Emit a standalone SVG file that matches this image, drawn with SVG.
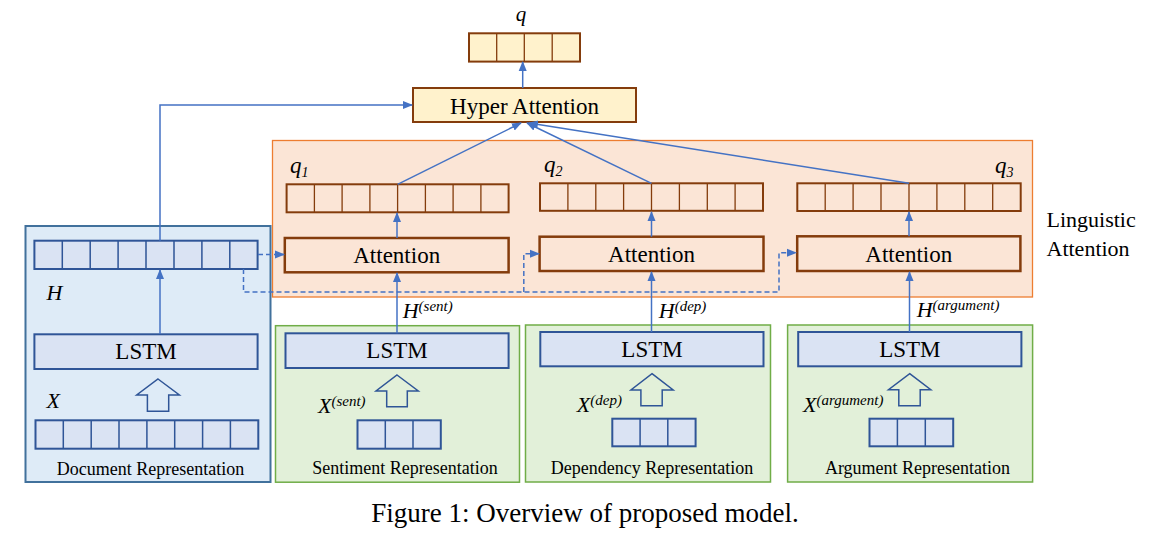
<svg xmlns="http://www.w3.org/2000/svg" width="1168" height="551" viewBox="0 0 1168 551">
<defs>
<marker id="ah" markerUnits="userSpaceOnUse" markerWidth="10" markerHeight="10" viewBox="0 0 10 10" refX="9" refY="5" orient="auto">
<path d="M0,1 L10,5 L0,9 Z" fill="#4472C4"/>
</marker>
</defs>
<style>
.t{font-family:"Liberation Serif","Times New Roman",serif;fill:#000}
.i{font-style:italic}
.docbox{fill:#DEEBF7;stroke:#41719C;stroke-width:2}
.grn{fill:#E2F0D9;stroke:#70AD47;stroke-width:1.5}
.la{fill:#FBE5D6;stroke:#ED7D31;stroke-width:1.3}
.bvec{fill:#DAE3F3;stroke:#2F5597;stroke-width:2}
.bdiv{stroke:#2F5597;stroke-width:1.5}
.rvec{fill:#FBE5D6;stroke:#843C0C;stroke-width:2}
.rdiv{stroke:#843C0C;stroke-width:1.3}
.ybox{fill:#FFF2CC;stroke:#843C0C;stroke-width:2}
.att{fill:#FBE5D6;stroke:#843C0C;stroke-width:2.5}
.lstm{fill:#DAE3F3;stroke:#2F5597;stroke-width:2}
.barrow{fill:none;stroke:#2F5597;stroke-width:1.5}
.c{fill:none;stroke:#4472C4;stroke-width:1.5}
.d{fill:none;stroke:#4472C4;stroke-width:1.5;stroke-dasharray:5 3}
</style>

<g id="linguistic-attention">
<rect class="la" x="272.5" y="140.5" width="760" height="156.5"/>
<text class="t" x="1046.5" y="227" font-size="22">Linguistic</text>
<text class="t" x="1046.5" y="256" font-size="22">Attention</text>
</g>

<g id="document">
<rect class="docbox" x="25.5" y="226" width="245" height="256"/>
<text class="t" x="150.5" y="475" font-size="18" text-anchor="middle">Document Representation</text>
</g>
<g id="sentiment">
<rect class="grn" x="275.5" y="325.7" width="244" height="156.5"/>
<text class="t" x="405" y="474" font-size="18" text-anchor="middle">Sentiment Representation</text>
</g>
<g id="dependency">
<rect class="grn" x="525.5" y="325" width="245" height="157"/>
<text class="t" x="652" y="474" font-size="18" text-anchor="middle">Dependency Representation</text>
</g>
<g id="argument">
<rect class="grn" x="787.6" y="325" width="245" height="157"/>
<text class="t" x="917.5" y="474" font-size="18" text-anchor="middle">Argument Representation</text>
</g>

<g id="q-vector">
<rect class="ybox" x="469" y="33.3" width="111" height="28.3"/>
<path class="rdiv" d="M496.7,33.3V61.6M524.3,33.3V61.6M552.2,33.3V61.6"/>
<text class="t i" x="521" y="21" font-size="21" text-anchor="middle">q</text>
</g>

<g id="hyper-attention">
<rect class="ybox" x="413" y="88" width="223" height="34"/>
<text class="t" x="524.5" y="113.5" font-size="23" text-anchor="middle">Hyper Attention</text>
</g>

<g id="q1">
<rect class="rvec" x="286.6" y="184.3" width="222" height="28"/>
<path class="rdiv" d="M314.4,184.3V212.3M342.1,184.3V212.3M369.9,184.3V212.3M397.6,184.3V212.3M425.4,184.3V212.3M453.1,184.3V212.3M480.9,184.3V212.3"/>
<text class="t i" x="290" y="173" font-size="23">q<tspan font-size="14" dy="4">1</tspan></text>
</g>
<g id="q2">
<rect class="rvec" x="540" y="183.3" width="223" height="27.5"/>
<path class="rdiv" d="M567.9,183.3V210.8M595.8,183.3V210.8M623.6,183.3V210.8M651.5,183.3V210.8M679.4,183.3V210.8M707.3,183.3V210.8M735.1,183.3V210.8"/>
<text class="t i" x="544" y="172" font-size="23">q<tspan font-size="14" dy="4">2</tspan></text>
</g>
<g id="q3">
<rect class="rvec" x="797.3" y="183.3" width="223.4" height="27.7"/>
<path class="rdiv" d="M825.2,183.3V211M853.1,183.3V211M881,183.3V211M909,183.3V211M936.9,183.3V211M964.8,183.3V211M992.7,183.3V211"/>
<text class="t i" x="995" y="173" font-size="23">q<tspan font-size="14" dy="4">3</tspan></text>
</g>

<g id="attention1">
<rect class="att" x="284.8" y="238" width="223.8" height="34.3"/>
<text class="t" x="396.7" y="263.3" font-size="23" text-anchor="middle">Attention</text>
</g>
<g id="attention2">
<rect class="att" x="539.6" y="236.7" width="223.9" height="34.3"/>
<text class="t" x="651.5" y="262" font-size="23" text-anchor="middle">Attention</text>
</g>
<g id="attention3">
<rect class="att" x="797.2" y="236.3" width="223.2" height="34.7"/>
<text class="t" x="908.8" y="262" font-size="23" text-anchor="middle">Attention</text>
</g>

<g id="H-vector">
<rect class="bvec" x="34.4" y="240.7" width="223.2" height="28.3"/>
<path class="bdiv" d="M62.3,240.7V269M90.2,240.7V269M118.1,240.7V269M146,240.7V269M174,240.7V269M201.9,240.7V269M229.8,240.7V269"/>
<text class="t i" x="46.5" y="300" font-size="22">H</text>
</g>
<g id="doc-lstm">
<rect class="lstm" x="34.4" y="334.3" width="223.2" height="34.7"/>
<text class="t" x="146" y="359.3" font-size="23" text-anchor="middle">LSTM</text>
</g>
<g id="X-vector">
<rect class="bvec" x="35.5" y="420.3" width="222.8" height="28.4"/>
<path class="bdiv" d="M63.3,420.3V448.7M91.2,420.3V448.7M119,420.3V448.7M146.9,420.3V448.7M174.7,420.3V448.7M202.6,420.3V448.7M230.4,420.3V448.7"/>
<text class="t i" x="46.5" y="408" font-size="22">X</text>
<path class="barrow" d="M158,379 L179.4,395 L168.7,395 L168.7,411.3 L147.4,411.3 L147.4,395 L136.7,395 Z"/>
</g>

<g id="sent-lstm">
<rect class="lstm" x="285.5" y="333.3" width="223.1" height="34.7"/>
<text class="t" x="397" y="358.3" font-size="23" text-anchor="middle">LSTM</text>
</g>
<g id="sent-input">
<rect class="bvec" x="357.5" y="420.3" width="83.3" height="28.4"/>
<path class="bdiv" d="M385.3,420.3V448.7M413,420.3V448.7"/>
<path class="barrow" d="M397,375 L418.3,391 L407.3,391 L407.3,406.7 L386.7,406.7 L386.7,391 L376,391 Z"/>
<text class="t i" x="318" y="413" font-size="22">X<tspan font-size="15" dy="-7">(sent)</tspan></text>
</g>

<g id="dep-lstm">
<rect class="lstm" x="540.3" y="332" width="223.2" height="34.3"/>
<text class="t" x="652" y="357.3" font-size="23" text-anchor="middle">LSTM</text>
</g>
<g id="dep-input">
<rect class="bvec" x="612.3" y="418.7" width="83.3" height="27.6"/>
<path class="bdiv" d="M640.1,418.7V446.3M667.8,418.7V446.3"/>
<path class="barrow" d="M652,373.7 L673.2,390 L662.2,390 L662.2,405.7 L640.9,405.7 L640.9,390 L630.9,390 Z"/>
<text class="t i" x="576.8" y="411.7" font-size="22">X<tspan font-size="15" dy="-7">(dep)</tspan></text>
</g>

<g id="arg-lstm">
<rect class="lstm" x="798.2" y="332" width="223.2" height="34.3"/>
<text class="t" x="909.8" y="357.3" font-size="23" text-anchor="middle">LSTM</text>
</g>
<g id="arg-input">
<rect class="bvec" x="869.5" y="418.7" width="83.7" height="27.6"/>
<path class="bdiv" d="M897.4,418.7V446.3M925.3,418.7V446.3"/>
<path class="barrow" d="M909.7,373.7 L930.8,389.7 L920.2,389.7 L920.2,405.7 L898.8,405.7 L898.8,389.7 L888.5,389.7 Z"/>
<text class="t i" x="803" y="411.7" font-size="22">X<tspan font-size="15" dy="-7">(argument)</tspan></text>
</g>

<g id="connectors">
<path class="c" d="M522.7,88 V62" marker-end="url(#ah)"/>
<path class="c" d="M160,240.7 V105 H412" marker-end="url(#ah)"/>
<path class="c" d="M160,334 V270" marker-end="url(#ah)"/>
<path class="c" d="M397.6,184.3 L521,123" marker-end="url(#ah)"/>
<path class="c" d="M651.5,183.3 L527,123" marker-end="url(#ah)"/>
<path class="c" d="M909,183.3 L529,123" marker-end="url(#ah)"/>
<path class="c" d="M397,238 V213" marker-end="url(#ah)"/>
<path class="c" d="M651.5,236.7 V212" marker-end="url(#ah)"/>
<path class="c" d="M909,236.3 V212" marker-end="url(#ah)"/>
<path class="c" d="M397,333.3 V273" marker-end="url(#ah)"/>
<path class="c" d="M651.5,332 V272" marker-end="url(#ah)"/>
<path class="c" d="M909.5,332 V272" marker-end="url(#ah)"/>
<path class="d" d="M258,254.5 H284" marker-end="url(#ah)"/>
<path class="d" d="M243.5,269 V292 H779 V252.7 H796" marker-end="url(#ah)"/>
<path class="d" d="M523.8,292 V253.7 H539" marker-end="url(#ah)"/>
<text class="t i" x="402.7" y="317.7" font-size="22">H<tspan font-size="15" dy="-7">(sent)</tspan></text>
<text class="t i" x="658.8" y="318" font-size="22">H<tspan font-size="15" dy="-7">(dep)</tspan></text>
<text class="t i" x="916.7" y="317" font-size="22">H<tspan font-size="15" dy="-7">(argument)</tspan></text>
</g>

<text class="t" x="585" y="522" font-size="27" text-anchor="middle">Figure 1: Overview of proposed model.</text>
</svg>
